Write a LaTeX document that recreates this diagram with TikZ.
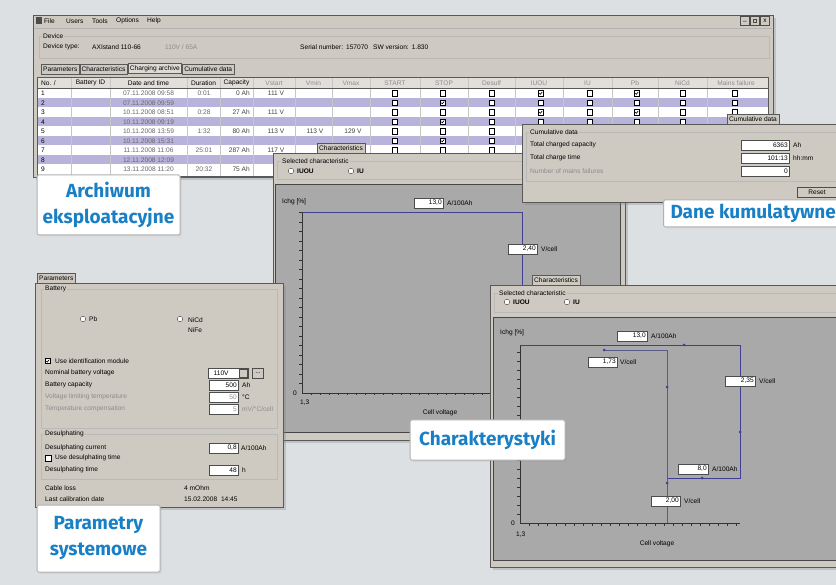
\documentclass[tikz,border=0pt]{standalone}
\usepackage{fontspec}
\setmainfont{Liberation Sans}
\newfontfamily\captionfont{Fira Sans}
\usetikzlibrary{shadows}
\definecolor{paper}{HTML}{DCE0E3}
\definecolor{winface}{HTML}{CECAC2}
\definecolor{plotface}{HTML}{A9A9A9}
\definecolor{lilac}{HTML}{B8B3DA}
\definecolor{curveblue}{HTML}{3F3F94}
\definecolor{dimtext}{HTML}{8C8C8C}
\definecolor{captionblue}{HTML}{1A80C6}
\tikzset{
  % windows, panels and group boxes
  window/.style = {
    fill=winface, draw=gray!70!black, line width=0.7pt,
    drop shadow={shadow xshift=3pt, shadow yshift=-3pt, opacity=0.3}
  },
  panel/.style = {fill=plotface, draw=gray!55!black, line width=0.7pt},
  group/.style = {draw=gray!55, line width=0.4pt},
  % screen texts
  screen/.style = {font=\fontsize{6.6}{7}\selectfont, inner sep=0pt},
  txt/.style = {screen, anchor=west},
  dim/.style = {txt, text=dimtext},
  tab/.style = {
    screen, draw=gray!70!black, fill=winface, inner xsep=2pt,
    minimum height=10pt, anchor=south west
  },
  grouptitle/.style = {txt, fill=winface, inner xsep=1pt},
  % input fields
  field/.style = {
    screen, draw=gray!60!black, fill=white, text width=#1, align=right,
    minimum height=10pt, inner xsep=1.5pt, anchor=west
  },
  field/.default=24pt,
  button/.style = {screen, draw=gray!60!black, fill=winface, minimum height=9pt},
  % check boxes and radio buttons
  box/.style = {draw=black, fill=white, line width=0.9pt, minimum size=5.5pt, inner sep=0pt},
  ticked/.style = {
    box,
    path picture={
      \draw[line width=0.6pt] ([xshift=-1.6pt]path picture bounding box.center)
        -- ++(1pt,-1pt) -- ++(1.8pt,2.3pt);
    }
  },
  radio/.style = {circle, draw=gray!50!black, fill=white, minimum size=5.5pt, inner sep=0pt},
  chosen/.style = {
    radio,
    path picture={\fill (path picture bounding box.center) circle (1.2pt);}
  },
  % plots
  axis/.style = {draw=black!80, line width=0.6pt},
  curve/.style = {draw=curveblue, line width=0.6pt},
  flowtip/.style = {circle, fill=curveblue, inner sep=0pt, minimum size=3pt},
  % blue captions
  caption/.style = {
    draw=gray!60, line width=1pt, fill=white, rounded corners=1.5pt,
    font=\captionfont\bfseries\fontsize{19}{26}\selectfont,
    text=captionblue, align=center,
    drop shadow={shadow xshift=1.5pt, shadow yshift=-1.5pt, opacity=0.15}
  },
}
\begin{document}
\begin{tikzpicture}[x=1pt,y=-1pt]
  \useasboundingbox (0,0) rectangle (836,585);
  \fill[paper] (0,0) rectangle (836,585);
  \clip (0,0) rectangle (836,585);

  % charging archive window
  \draw[window] (33,15) rectangle (773,177);
  \node[fill=black!70, minimum width=6pt, minimum height=7pt, inner sep=0pt] (app-icon) at (39,21) {};
  \foreach \entry/\x in {File/44,Users/66,Tools/92,Options/116,Help/147}
    \node[txt] (menu-\entry) at (\x,21) {\entry};
  \node[button, minimum width=9pt] (btn-min) at (745,21) {\_};
  \node[button, minimum width=9pt,
        path picture={\draw[line width=0.4pt] ([shift={(-1.5pt,-1.5pt)}]path picture bounding box.center) rectangle ++(3pt,3pt);}]
        (btn-max) at (755,21) {};
  \node[button, minimum width=9pt] (btn-close) at (765,21) {x};
  \draw[gray!60] (34,28) -- (772,28);
  \draw[group] (39,36) rectangle (769,58);
  \node[grouptitle] (dev-title) at (42,36) {Device};
  \node[txt] (dev-type) at (43,47) {Device type:};
  \node[txt] (dev-name) at (92,47) {AXIstand 110-66};
  \node[dim] (dev-rating) at (165,47) {110V / 65A};
  \node[txt] (dev-serial) at (300,47) {Serial number:\hspace{3pt}157070};
  \node[txt] (dev-sw) at (373,47) {SW version:\hspace{3pt}1.830};
  \node[tab] (tab-par) at (41,74) {Parameters};
  \node[tab] (tab-char) at (tab-par.south east) {Characteristics};
  \node[tab, fill=winface!70!white, line width=0.8pt] (tab-arch) at (tab-char.south east) {Charging archive};
  \node[tab] (tab-cum) at (tab-arch.south east) {Cumulative data};
  % table
  \fill[white] (37,77) rectangle (768,176);
  \fill[winface!60!white] (37,77) rectangle (768,88.5);
  \foreach \r in {2,4,6,8}
    \fill[lilac] (37,{79+\r*9.5}) rectangle (768,{88.5+\r*9.5});
  \foreach \x in {71,110,187,220,253,295,332,370,420,468,515,563,612,658,707}
    \draw[gray!45] (\x,77) -- (\x,176);
  \draw[gray!70!black] (37,77) rectangle (768,176);
  \draw[gray!70!black] (37,88.5) -- (768,88.5);
  \node[txt] (head-no) at (41,83) {No. /};
  \foreach \head/\x [count=\k] in {Battery ID/90.5,Date and time/148.5,Duration/203.5,Capacity/236.5}
    \node[screen] (head-\k) at (\x,83) {\head};
  \foreach \head/\x [count=\k] in {Vstart/274,Vmin/313.5,Vmax/351,START/395,STOP/444,Desulf/491.5,IUOU/539,IU/587.5,Pb/635,NiCd/682.5,Mains failure/736}
    \node[screen, text=dimtext] (head-g\k) at (\x,83) {\head};
  \foreach \r/\date/\dur/\cap/\vs/\vmi/\vma in {
      1/07.11.2008 09:58/0:01/0 Ah/111 V//,
      2/07.11.2008 09:59/////,
      3/10.11.2008 08:51/0:28/27 Ah/111 V//,
      4/10.11.2008 09:19/////,
      5/10.11.2008 13:59/1:32/80 Ah/113 V/113 V/129 V,
      6/10.11.2008 15:31/////,
      7/11.11.2008 11:06/25:01/287 Ah/117 V//,
      8/12.11.2008 12:09/////,
      9/13.11.2008 11:20/20:32/75 Ah///}{
    \node[txt] (no-\r) at (41,{93.25+(\r-1)*9.5}) {\r};
    \node[screen, text=black!60] (date-\r) at (148.5,{93.25+(\r-1)*9.5}) {\date};
    \node[screen, text=black!60] (dur-\r) at (204,{93.25+(\r-1)*9.5}) {\dur};
    \node[screen, anchor=east, text=black!75] (cap-\r) at (250,{93.25+(\r-1)*9.5}) {\cap};
    \node[screen, text=black!75] (vstart-\r) at (276,{93.25+(\r-1)*9.5}) {\vs};
    \node[screen, text=black!75] (vmin-\r) at (315,{93.25+(\r-1)*9.5}) {\vmi};
    \node[screen, text=black!75] (vmax-\r) at (353,{93.25+(\r-1)*9.5}) {\vma};
  }
  \foreach \r in {1,...,9}
    \foreach \c/\x in {1/395,2/443,3/492,4/541,5/590,6/637,7/683,8/735}
      \node[box] (chk-\r-\c) at (\x,{93.25+(\r-1)*9.5}) {};
  \foreach \r/\c in {1/4,1/6,2/2,3/4,3/6,4/2,5/4,5/7,6/2,7/4,7/7,8/2,9/4,9/7}
    \node[ticked] (tick-\r-\c) at (chk-\r-\c) {};

  % characteristics window (IU)
  \node[tab] (tab-mid) at (317,153.5) {Characteristics};
  \draw[window] (273,153) rectangle (625,440);
  \draw[group] (277,161) rectangle (620,179);
  \node[grouptitle] (mid-sel) at (281,161) {Selected characteristic};
  \node[radio] (mid-iuou) at (291,171) {};
  \node[txt, font=\fontsize{6.6}{7}\selectfont\bfseries] (mid-iuou-text) at (297,171) {IUOU};
  \node[chosen] (mid-iu) at (351,171) {};
  \node[txt, font=\fontsize{6.6}{7}\selectfont\bfseries] (mid-iu-text) at (357,171) {IU};
  \draw[panel] (275,184) rectangle (620,432);
  \node[txt] (mid-ichg) at (282,202) {Ichg [\%]};
  \node[field=26pt] (mid-imax) at (414,203) {13,0};
  \node[txt] (mid-imax-unit) at (447,203) {A/100Ah};
  \coordinate (mid-o) at (302,393);
  \coordinate (mid-top) at (302,212);
  \coordinate (mid-tr) at (522,212);
  \coordinate (mid-br) at (522,393);
  \draw[curve] (mid-top) -- (mid-tr) -- (mid-br);
  \draw[axis] (mid-top) -- (mid-o) -- (mid-br);
  \foreach \t in {1,...,19}
    \draw[axis, line width=0.4pt] (299,{393-\t*9.5}) -- (302,{393-\t*9.5});
  \foreach \t in {1,...,24}
    \draw[axis, line width=0.4pt] ({302+\t*9},393) -- ({302+\t*9},395.5);
  \node[screen, anchor=east] (mid-zero) at (297,393) {0};
  \node[txt] (mid-start) at (300,403) {1,3};
  \node[screen] (mid-xlabel) at (440,413) {Cell voltage};
  \node[field=26pt] (mid-umax) at (508,249) {2,40};
  \node[txt] (mid-umax-unit) at (541,249) {V/cell};

  % cumulative data window
  \node[tab] (tab-total) at (727,124.5) {Cumulative data};
  \draw[window] (522,124) rectangle (850,202);
  \draw[group] (526,132) rectangle (845,181);
  \node[grouptitle] (cum-title) at (529,132) {Cumulative data};
  \node[txt] (cum-cap) at (530,145) {Total charged capacity};
  \node[field=45pt] (cum-cap-val) at (741,145) {6363};
  \node[txt] (cum-cap-unit) at (793,145) {Ah};
  \node[txt] (cum-time) at (530,158) {Total charge time};
  \node[field=45pt] (cum-time-val) at (741,158) {101:13};
  \node[txt] (cum-time-unit) at (793,158) {hh:mm};
  \node[dim] (cum-fail) at (530,171) {Number of mains failures};
  \node[field=45pt] (cum-fail-val) at (741,171) {0};
  \node[button, minimum width=40pt, minimum height=10pt] (cum-reset) at (817,192) {Reset};

  % parameters window
  \node[tab] (tab-param) at (37,283.5) {Parameters};
  \draw[window] (35,283) rectangle (283,507);
  \draw[group] (41,289) rectangle (277,428);
  \node[grouptitle] (bat-title) at (44,289) {Battery};
  \node[radio] (bat-pb) at (83,319) {};
  \node[txt] (bat-pb-text) at (89,319) {Pb};
  \node[chosen] (bat-nicd) at (180,319) {};
  \node[txt] (bat-nicd-text) at (188,320) {NiCd};
  \node[txt] (bat-nife-text) at (188,330) {NiFe};
  \node[ticked] (bat-ident) at (48,361) {};
  \node[txt] (bat-ident-text) at (55,361) {Use identification module};
  \node[txt] (bat-volt) at (45,373) {Nominal battery voltage};
  \node[field=37pt, align=left] (bat-volt-val) at (208,373) {\hspace{4pt}110V};
  \node[button, minimum width=8pt, minimum height=8pt,
        path picture={\fill ([shift={(-2pt,1pt)}]path picture bounding box.center) -- ++(4pt,0pt) -- ++(-2pt,-2.5pt) -- cycle;}]
        (bat-volt-drop) at (243,373) {};
  \node[button, minimum width=11pt, minimum height=10pt] (bat-volt-more) at (258,373) {...};
  \node[txt] (bat-cap) at (45,385) {Battery capacity};
  \node[field=26pt] (bat-cap-val) at (209,385) {500};
  \node[txt] (bat-cap-unit) at (242,385) {Ah};
  \node[dim] (bat-temp) at (45,397) {Voltage limiting temperature};
  \node[field=26pt, text=dimtext] (bat-temp-val) at (209,397) {50};
  \node[txt] (bat-temp-unit) at (242,397) {°C};
  \node[dim] (bat-comp) at (45,409) {Temperature compensation};
  \node[field=26pt, text=dimtext] (bat-comp-val) at (209,409) {5};
  \node[dim] (bat-comp-unit) at (242,409) {mV/°C/cell};
  \draw[group] (41,434) rectangle (277,479);
  \node[grouptitle] (des-title) at (44,434) {Desulphating};
  \node[txt] (des-cur) at (45,448) {Desulphating current};
  \node[field=26pt] (des-cur-val) at (209,448) {0,8};
  \node[txt] (des-cur-unit) at (241,448) {A/100Ah};
  \node[box, line width=0.5pt] (des-use) at (48,458) {};
  \node[txt] (des-use-text) at (55,458) {Use desulphating time};
  \node[txt] (des-time) at (45,470) {Desulphating time};
  \node[field=26pt] (des-time-val) at (209,470) {48};
  \node[txt] (des-time-unit) at (242,470) {h};
  \node[txt] (cable) at (45,488) {Cable loss};
  \node[txt] (cable-val) at (184,488) {4 mOhm};
  \node[txt] (calib) at (45,499) {Last calibration date};
  \node[txt] (calib-val) at (184,499) {15.02.2008 \hspace{2pt}14:45};

  % characteristics window (IUOU)
  \node[tab] (tab-br) at (532,285.5) {Characteristics};
  \draw[window] (490,285) rectangle (850,567);
  \draw[group] (494,293) rectangle (850,312);
  \node[grouptitle] (br-sel) at (498,293) {Selected characteristic};
  \node[chosen] (br-iuou) at (507,302) {};
  \node[txt, font=\fontsize{6.6}{7}\selectfont\bfseries] (br-iuou-text) at (513,302) {IUOU};
  \node[radio] (br-iu) at (567,302) {};
  \node[txt, font=\fontsize{6.6}{7}\selectfont\bfseries] (br-iu-text) at (573,302) {IU};
  \draw[panel] (493,317) rectangle (850,560);
  \node[txt] (br-ichg) at (500,333) {Ichg [\%]};
  \node[field=27pt] (br-imax) at (617,336) {13,0};
  \node[txt] (br-imax-unit) at (651,336) {A/100Ah};
  \coordinate (br-o) at (520,523);
  \coordinate (br-top) at (520,345);
  \coordinate (br-xend) at (740,523);
  \draw[axis] (br-top) -- (br-o) -- (br-xend);
  \foreach \t in {1,...,19}
    \draw[axis, line width=0.4pt] (517,{523-\t*9}) -- (520,{523-\t*9});
  \foreach \t in {1,...,24}
    \draw[axis, line width=0.4pt] ({520+\t*9},523) -- ({520+\t*9},525.5);
  \coordinate (iu1) at (740,345);
  \coordinate (iu2) at (740,478);
  \coordinate (iu3) at (667,478);
  \coordinate (iu4) at (667,350);
  \coordinate (iu5) at (604,350);
  \coordinate (iu6) at (667,523);
  \draw[curve] (br-top) -- (iu1) -- (iu2) -- (iu3);
  \draw[curve, draw=curveblue!60!gray] (iu5) -- (iu4) -- (iu6);
  \foreach \x/\y [count=\k] in {684/345,740/432,702/478,604/350,667/387,667/483}
    \node[flowtip] (tip-\k) at (\x,\y) {};
  \node[field=26pt] (br-ustart) at (588,362) {1,73};
  \node[txt] (br-ustart-unit) at (620,362) {V/cell};
  \node[field=27pt] (br-umax) at (725,381) {2,35};
  \node[txt] (br-umax-unit) at (759,381) {V/cell};
  \node[field=27pt] (br-imin) at (678,469) {8,0};
  \node[txt] (br-imin-unit) at (712,469) {A/100Ah};
  \node[field=26pt] (br-uend) at (651,501) {2,00};
  \node[txt] (br-uend-unit) at (684,501) {V/cell};
  \node[screen, anchor=east] (br-zero) at (515,523) {0};
  \node[txt] (br-start) at (516,535) {1,3};
  \node[screen] (br-xlabel) at (657,544) {Cell voltage};

  % captions
  \node[caption, minimum width=143pt, minimum height=60pt] (cap-archive) at (108.5,205) {Archiwum\\eksploatacyjne};
  \node[caption, anchor=west, minimum height=27pt, inner xsep=7pt] (cap-total) at (663,213.5) {Dane kumulatywne};
  \node[caption, minimum width=155pt, minimum height=40pt] (cap-char) at (487.5,440) {Charakterystyki};
  \node[caption, minimum width=123pt, minimum height=67pt] (cap-param) at (98.5,538.5) {Parametry\\systemowe};
\end{tikzpicture}
\end{document}
